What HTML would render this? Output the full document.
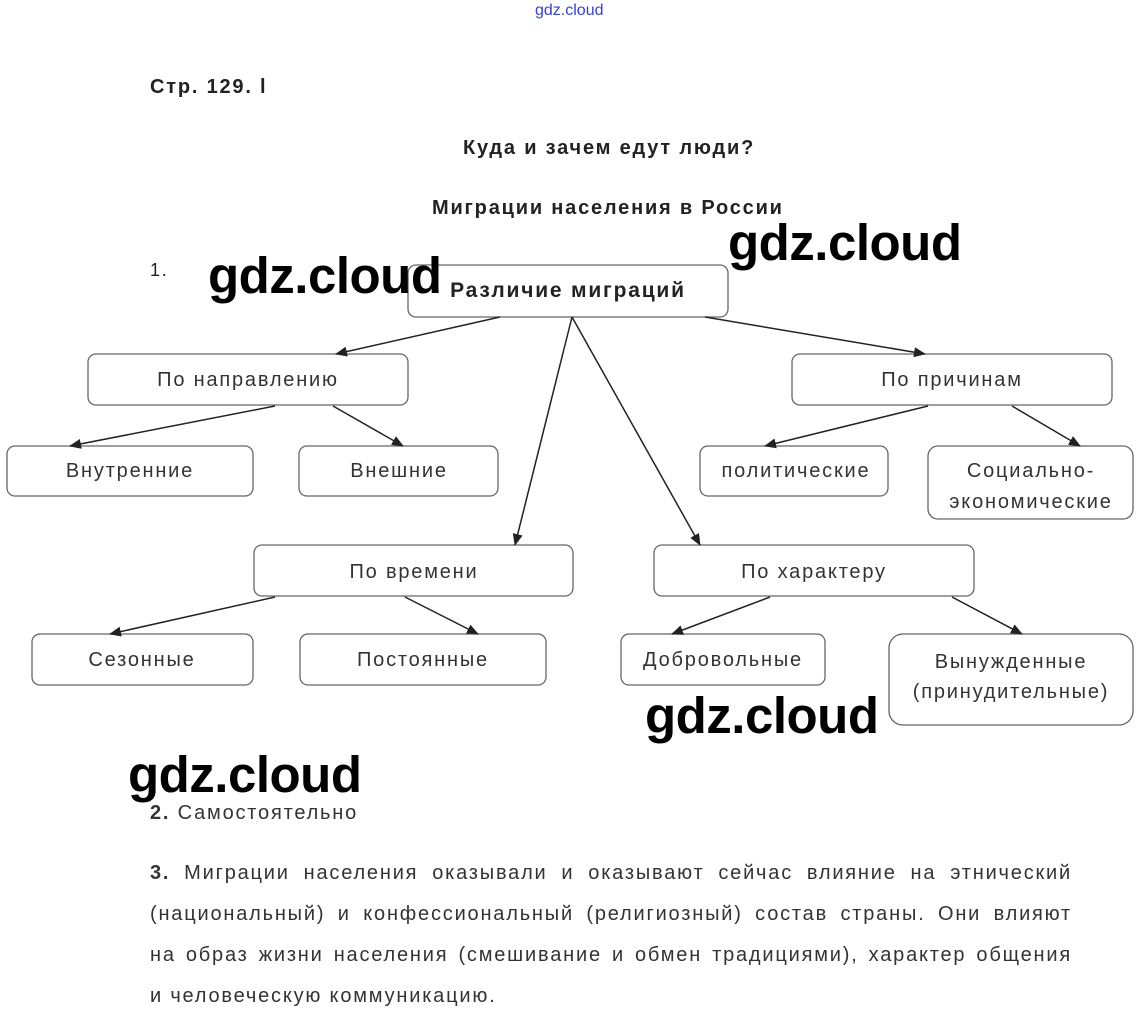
<!DOCTYPE html>
<html><head><meta charset="utf-8"><style>
body{margin:0;width:1145px;height:1025px;background:#fff;position:relative;overflow:hidden;font-family:"Liberation Sans",Arial,sans-serif;color:#222;letter-spacing:1.8px}
.a{position:absolute;white-space:nowrap}
.w{position:absolute;font-family:"Liberation Sans",sans-serif;font-size:51px;font-weight:bold;color:#000;line-height:1;letter-spacing:-0.5px}
.p{position:absolute;left:150px;width:922px;font-size:20px;color:#333;text-align:justify;text-align-last:justify;line-height:41px}
</style></head><body>
<svg width="1145" height="1025" style="position:absolute;left:0;top:0" font-family="Liberation Sans, Arial, sans-serif" font-size="20" fill="#333" letter-spacing="1.8">
<defs><marker id="m" markerWidth="12" markerHeight="10" refX="11" refY="5" orient="auto" markerUnits="userSpaceOnUse"><path d="M0,0 L12,5 L0,10 z" fill="#222"/></marker></defs>
<g fill="#fff" stroke="#666" stroke-width="1.3">
<rect x="408" y="265" width="320" height="52" rx="8"/>
<rect x="88" y="354" width="320" height="51" rx="8"/>
<rect x="792" y="354" width="320" height="51" rx="8"/>
<rect x="7" y="446" width="246" height="50" rx="8"/>
<rect x="299" y="446" width="199" height="50" rx="8"/>
<rect x="700" y="446" width="188" height="50" rx="8"/>
<rect x="928" y="446" width="205" height="73" rx="10"/>
<rect x="254" y="545" width="319" height="51" rx="8"/>
<rect x="654" y="545" width="320" height="51" rx="8"/>
<rect x="32" y="634" width="221" height="51" rx="8"/>
<rect x="300" y="634" width="246" height="51" rx="8"/>
<rect x="621" y="634" width="204" height="51" rx="8"/>
<rect x="889" y="634" width="244" height="91" rx="14"/>
</g>
<g stroke="#222" stroke-width="1.5" marker-end="url(#m)">
<line x1="500" y1="317" x2="336" y2="354"/>
<line x1="572" y1="317" x2="515" y2="545"/>
<line x1="572" y1="317" x2="700" y2="545"/>
<line x1="705" y1="317" x2="925" y2="354"/>
<line x1="275" y1="406" x2="70" y2="446"/>
<line x1="333" y1="406" x2="403" y2="446"/>
<line x1="928" y1="406" x2="765" y2="446"/>
<line x1="1012" y1="406" x2="1080" y2="446"/>
<line x1="275" y1="597" x2="110" y2="634"/>
<line x1="405" y1="597" x2="478" y2="634"/>
<line x1="770" y1="597" x2="672" y2="634"/>
<line x1="952" y1="597" x2="1022" y2="634"/>
</g>
<g text-anchor="middle">
<text x="568" y="297" font-weight="bold" font-size="21" fill="#222">Различие миграций</text>
<text x="248" y="386">По направлению</text>
<text x="952" y="386">По причинам</text>
<text x="130" y="477">Внутренние</text>
<text x="399" y="477">Внешние</text>
<text x="796" y="477">политические</text>
<text x="1031" y="477">Социально-</text>
<text x="1031" y="508">экономические</text>
<text x="414" y="578">По времени</text>
<text x="814" y="578">По характеру</text>
<text x="142" y="666">Сезонные</text>
<text x="423" y="666">Постоянные</text>
<text x="723" y="666">Добровольные</text>
<text x="1011" y="668">Вынужденные</text>
<text x="1011" y="698">(принудительные)</text>
</g>
</svg>
<div class="a" style="left:535px;top:2px;font-size:16px;color:#3344cc;letter-spacing:0">gdz.cloud</div>
<div class="a" style="left:150px;top:76px;font-size:20px;font-weight:bold;color:#222">Стр. 129. l</div>
<div class="a" style="left:463px;top:137px;font-size:20px;font-weight:bold;color:#222">Куда и зачем едут люди?</div>
<div class="a" style="left:432px;top:197px;font-size:20px;font-weight:bold;color:#222">Миграции населения в России</div>
<div class="a" style="left:150px;top:260px;font-size:18px;color:#222">1.</div>
<div class="w" style="left:208px;top:250px">gdz.cloud</div>
<div class="w" style="left:728px;top:217px">gdz.cloud</div>
<div class="w" style="left:645px;top:690px">gdz.cloud</div>
<div class="w" style="left:128px;top:749px">gdz.cloud</div>
<div class="a" style="left:150px;top:802px;font-size:20px;color:#333"><b>2.</b> Самостоятельно</div>
<div class="p" style="top:853px"><b>3.</b> Миграции населения оказывали и оказывают сейчас влияние на этнический</div>
<div class="p" style="top:894px">(национальный) и конфессиональный (религиозный) состав страны. Они влияют</div>
<div class="p" style="top:935px">на образ жизни населения (смешивание и обмен традициями), характер общения</div>
<div class="p" style="top:976px;text-align-last:left">и человеческую коммуникацию.</div>
</body></html>
